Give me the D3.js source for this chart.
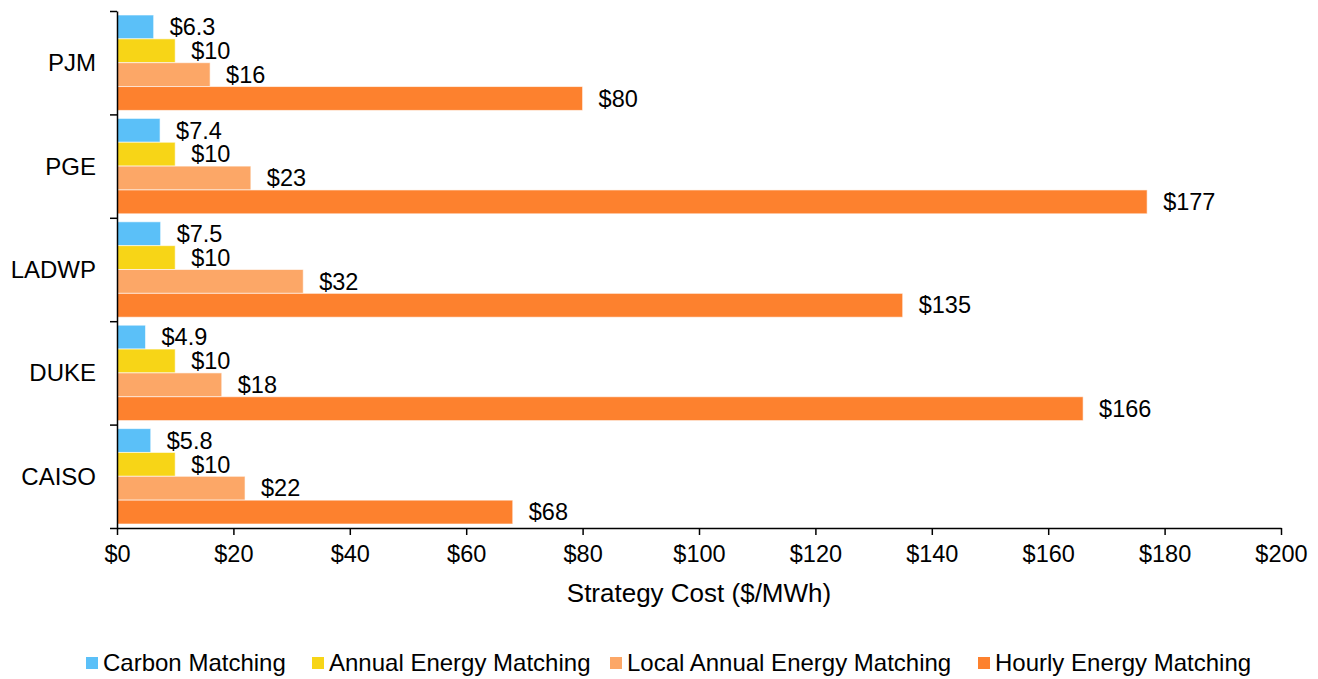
<!DOCTYPE html>
<html>
<head>
<meta charset="utf-8">
<script src="https://cdn.jsdelivr.net/npm/d3@7"></script>
<style>
  html, body { margin: 0; padding: 0; background: #fff; }
  svg { display: block; font-family: "Liberation Sans", Arial, sans-serif; }
</style>
</head>
<body>
<div id="chart"></div>
<script>
// Data
const regions = ['PJM', 'PGE', 'LADWP', 'DUKE', 'CAISO'];
const strategies = ['Carbon Matching', 'Annual Energy Matching', 'Local Annual Energy Matching', 'Hourly Energy Matching'];
const carbonMatching = [6.3, 7.4, 7.5, 4.9, 5.8];
const annualMatching = [10, 10, 10, 10, 10];
const localAnnualMatching = [16, 23, 32, 18, 22];
const hourlyMatching = [80, 177, 135, 166, 68];
const xTicks = [0, 20, 40, 60, 80, 100, 120, 140, 160, 180, 200];
const colors = ['#5bc0f8', '#f7d517', '#fca767', '#fd812e'];

const seriesValues = [carbonMatching, annualMatching, localAnnualMatching, hourlyMatching];

// SVG
const width = 1318;
const height = 679;
const margin = { top: 11, left: 117, right: 37, bottom: 151 };

const svg = d3.select('#chart')
    .append('svg')
    .attr('width', width)
    .attr('height', height);

// Scales
const x = d3.scaleLinear()
    .domain([0, 200])
    .range([margin.left, width - margin.right]);

const y0 = d3.scaleBand()
    .domain(regions)
    .range([margin.top, height - margin.bottom]);

const y1 = d3.scaleBand()
    .domain(strategies)
    .range([4, y0.bandwidth() - 4]);

// band boundary ticks for the y axis
const yEdge = d3.scaleLinear()
    .domain([0, regions.length])
    .range([margin.top, height - margin.bottom]);

// Bars
const groups = svg.append('g')
    .selectAll('g')
    .data(regions)
    .join('g')
    .attr('transform', d => `translate(0,${y0(d)})`);

groups.selectAll('rect')
    .data((d, i) => strategies.map((s, j) => ({ s, v: seriesValues[j][i], c: colors[j] })))
    .join('rect')
    .attr('x', x(0))
    .attr('y', d => y1(d.s))
    .attr('width', d => x(d.v) - x(0))
    .attr('height', y1.bandwidth())
    .attr('fill', d => d.c)
    .attr('stroke', '#fff')
    .attr('stroke-opacity', 0.6)
    .attr('stroke-width', 1);

groups.selectAll('text')
    .data((d, i) => strategies.map((s, j) => ({ s, v: seriesValues[j][i] })))
    .join('text')
    .attr('x', d => x(d.v) + 16)
    .attr('y', d => y1(d.s) + y1.bandwidth() / 2)
    .attr('dy', '0.35em')
    .style('font-size', '23.5px')
    .attr('fill', '#000')
    .text(d => '$' + d.v);

// X axis
const xAxis = svg.append('g')
    .attr('transform', `translate(0,${height - margin.bottom})`)
    .call(d3.axisBottom(x)
        .tickValues(xTicks)
        .tickSize(7)
        .tickSizeOuter(0)
        .tickPadding(10)
        .tickFormat(d => '$' + d));

xAxis.select('.domain').attr('stroke-width', 1.5);
xAxis.selectAll('.tick line').attr('stroke-width', 1.5);
xAxis.selectAll('text')
    .style('font-size', '23.5px')
    .style('font-family', '"Liberation Sans", Arial, sans-serif')
    .attr('fill', '#000');

// Y axis
const yAxis = svg.append('g')
    .attr('transform', `translate(${margin.left},0)`)
    .call(d3.axisLeft(yEdge)
        .ticks(regions.length)
        .tickSize(7)
        .tickSizeOuter(0)
        .tickFormat(''));

yAxis.select('.domain').attr('stroke-width', 1.5);
yAxis.selectAll('.tick line').attr('stroke-width', 1.5);

svg.append('g')
    .selectAll('text')
    .data(regions)
    .join('text')
    .attr('x', 96)
    .attr('y', d => y0(d) + y0.bandwidth() / 2)
    .attr('dy', '0.35em')
    .attr('text-anchor', 'end')
    .style('font-size', '24px')
    .text(d => d);

// Axis title
svg.append('text')
    .attr('x', 699)
    .attr('y', 593)
    .attr('dy', '0.35em')
    .attr('text-anchor', 'middle')
    .style('font-size', '26px')
    .text('Strategy Cost ($/MWh)');

// Legend
const legendX = [86, 312, 610, 978];
const legend = svg.append('g')
    .selectAll('g')
    .data(strategies)
    .join('g')
    .attr('transform', (d, i) => `translate(${legendX[i]},663)`);

legend.append('rect')
    .attr('x', 0)
    .attr('y', -6)
    .attr('width', 12)
    .attr('height', 12)
    .attr('fill', (d, i) => colors[i]);

legend.append('text')
    .attr('x', 17)
    .attr('dy', '0.35em')
    .style('font-size', '24px')
    .text(d => d);
</script>
</body>
</html>
